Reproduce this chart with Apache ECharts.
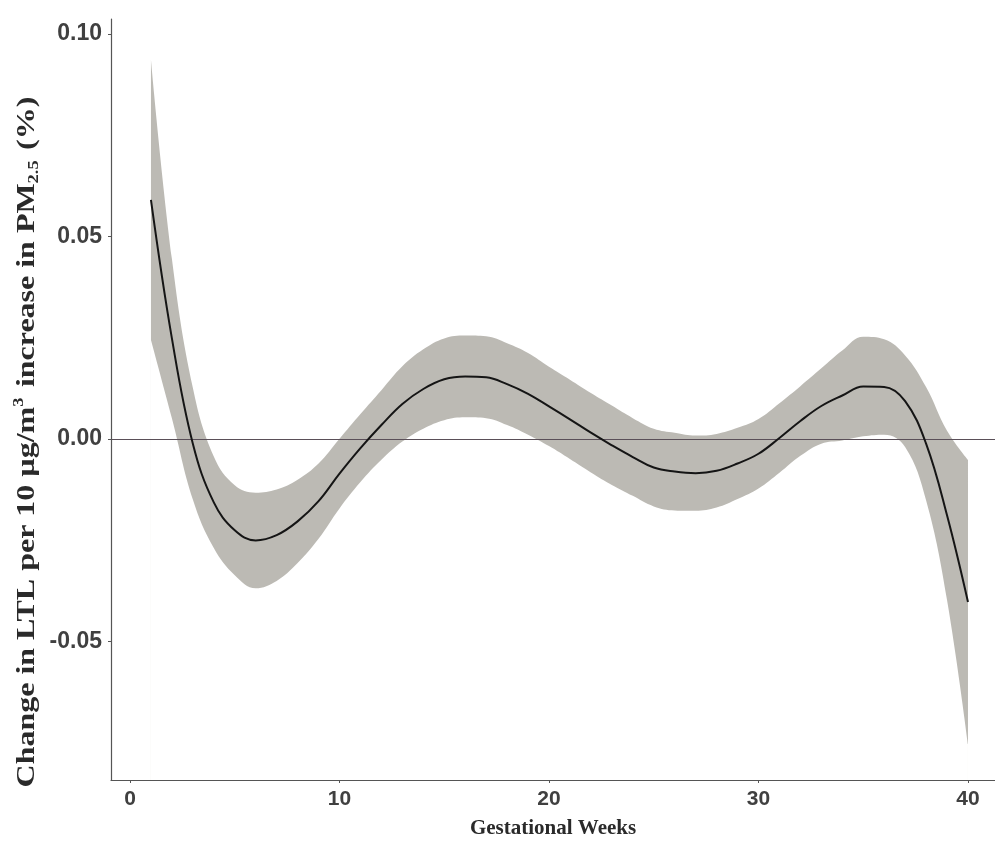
<!DOCTYPE html>
<html>
<head>
<meta charset="utf-8">
<script src="https://cdn.jsdelivr.net/npm/echarts@6/dist/echarts.min.js"></script>
<style>
  html, body { margin: 0; padding: 0; background: #fff; }
  #chart { width: 995px; height: 844px; }
</style>
</head>
<body>
<div id="chart"></div>
<script>
// gestational week
var weeks = [1, 2, 3, 4, 5, 6, 7, 8, 9, 10, 11, 12, 13, 14, 15, 16, 17, 18, 19, 20,
  21, 22, 23, 24, 25, 26, 27, 28, 29, 30, 31, 32, 33, 34, 35, 36, 37, 38, 39, 40];

// estimated change (%)
var estimate = [0.0590, 0.0248, -0.0012, -0.0157, -0.0226, -0.0251, -0.0238, -0.0204, -0.0154, -0.0086,
  -0.0023, 0.0034, 0.0086, 0.0123, 0.0147, 0.0154, 0.0152, 0.0135, 0.0111, 0.0080,
  0.0048, 0.0015, -0.0016, -0.0045, -0.0071, -0.0081, -0.0085, -0.0079, -0.0061, -0.0037,
  0.0002, 0.0044, 0.0081, 0.0107, 0.0129, 0.0128, 0.0093, -0.0012, -0.0189, -0.0403];

// 95% CI
var upperCI = [0.0936, 0.0445, 0.0126, -0.0044, -0.0115, -0.0133, -0.0125, -0.0101, -0.0061, 0.0000,
  0.0061, 0.0120, 0.0179, 0.0221, 0.0248, 0.0255, 0.0253, 0.0236, 0.0212, 0.0178,
  0.0146, 0.0113, 0.0082, 0.0051, 0.0025, 0.0015, 0.0008, 0.0012, 0.0027, 0.0049,
  0.0088, 0.0130, 0.0174, 0.0218, 0.0252, 0.0246, 0.0206, 0.0128, 0.0020, -0.0052];
var lowerCI = [0.0244, 0.0051, -0.0150, -0.0270, -0.0337, -0.0369, -0.0351, -0.0307, -0.0247, -0.0172,
  -0.0107, -0.0052, -0.0007, 0.0025, 0.0046, 0.0053, 0.0051, 0.0034, 0.0010, -0.0018,
  -0.0050, -0.0083, -0.0114, -0.0141, -0.0167, -0.0177, -0.0178, -0.0170, -0.0149, -0.0123,
  -0.0084, -0.0042, -0.0012, -0.0004, 0.0006, 0.0010, -0.0020, -0.0152, -0.0398, -0.0754];

var xTicks = [0, 10, 20, 30, 40];
var yTicks = [-0.05, 0, 0.05, 0.10];

var chart = echarts.init(document.getElementById('chart'));

var pairs = function (arr) {
  return weeks.map(function (w, i) { return [w, arr[i]]; });
};

var option = {
  backgroundColor: '#fff',
  animation: false,
  grid: { left: 111, right: 0, top: 19, bottom: 60 },
  xAxis: {
    type: 'value',
    min: -0.907,
    max: 41.29,
    splitNumber: 4,
    z: 10,
    name: 'Gestational Weeks',
    nameLocation: 'middle',
    nameGap: 38,
    nameTextStyle: {
      fontFamily: 'Liberation Serif',
      fontWeight: 'bold',
      fontSize: 21,
      color: '#2a2a2a'
    },
    axisLine: { onZero: false, lineStyle: { color: '#555', width: 1.2 } },
    axisTick: { customValues: xTicks, length: 3, lineStyle: { color: '#555' } },
    axisLabel: {
      customValues: xTicks,
      margin: 9,
      fontFamily: 'Liberation Sans',
      fontWeight: 'bold',
      fontSize: 21,
      color: '#404040'
    },
    splitLine: { show: false }
  },
  yAxis: {
    type: 'value',
    min: -0.08428,
    max: 0.10369,
    splitNumber: 4,
    z: 10,
    axisLine: { show: true, onZero: false, lineStyle: { color: '#555', width: 1.2 } },
    axisTick: { show: true, customValues: yTicks, length: 3, lineStyle: { color: '#555' } },
    axisLabel: {
      customValues: yTicks,
      margin: 9,
      fontFamily: 'Liberation Sans',
      fontWeight: 'bold',
      fontSize: 23,
      color: '#404040',
      formatter: function (v) { return v.toFixed(2); }
    },
    splitLine: { show: false }
  },
  graphic: [{
    type: 'text',
    x: 27,
    y: 442,
    rotation: Math.PI / 2,
    scaleX: 1.23,
    style: {
      text: 'Change in LTL per 10 \u00b5g/m{sup|3} increase in PM{sub|2.5} (%)',
      fontFamily: 'Liberation Serif',
      fontWeight: 'bold',
      fontSize: 26,
      lineHeight: 30,
      fill: '#2a2a2a',
      align: 'center',
      verticalAlign: 'middle',
      rich: {
        sup: { fontFamily: 'Liberation Serif', fontWeight: 'bold', fontSize: 15, verticalAlign: 'top', lineHeight: 30, padding: [0, 2, 12, 0] },
        sub: { fontFamily: 'Liberation Serif', fontWeight: 'bold', fontSize: 15, verticalAlign: 'bottom', lineHeight: 30, padding: [8, 2, 0, 0] }
      }
    }
  }],
  series: [
    {
      // grey fill from the upper CI down to the axis floor
      name: 'upper',
      type: 'line',
      data: pairs(upperCI),
      smooth: 0.4,
      symbol: 'none',
      lineStyle: { width: 0, opacity: 0 },
      areaStyle: { color: '#bcbab4', opacity: 1, origin: 'start' },
      silent: true,
      z: 1
    },
    {
      // white mask below the lower CI, leaves the band
      name: 'lower',
      type: 'line',
      data: pairs(lowerCI),
      smooth: 0.4,
      symbol: 'none',
      lineStyle: { width: 0, opacity: 0 },
      areaStyle: { color: '#fff', opacity: 1, origin: 'start' },
      silent: true,
      z: 2
    },
    {
      name: 'estimate',
      type: 'line',
      data: pairs(estimate),
      smooth: 0.4,
      symbol: 'none',
      lineStyle: { color: '#151515', width: 2 },
      z: 5,
      markLine: {
        silent: true,
        symbol: 'none',
        label: { show: false },
        lineStyle: { color: '#5a4f58', width: 1.2, type: 'solid' },
        data: [{ yAxis: 0 }]
      }
    }
  ]
};

chart.setOption(option);
</script>
</body>
</html>
